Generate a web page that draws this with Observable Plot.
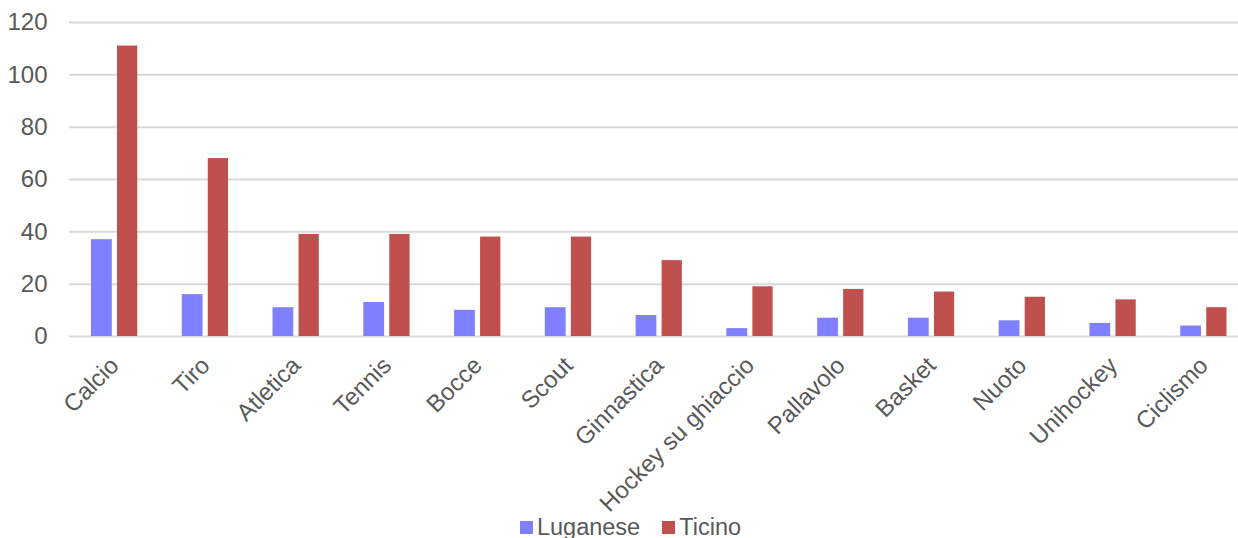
<!DOCTYPE html>
<html>
<head>
<meta charset="utf-8">
<script src="https://cdn.jsdelivr.net/npm/d3@7"></script>
<script src="https://cdn.jsdelivr.net/npm/@observablehq/plot@0.6"></script>
<style>
  html, body { margin: 0; padding: 0; background: #fff; overflow: hidden; }
  #chart svg { display: block; overflow: hidden; }
  .legend {
    display: flex; justify-content: center; align-items: center;
    padding-left: 23px; margin-top: -4px; height: 30px; line-height: 30px;
    font-family: "Liberation Sans", Arial, sans-serif; font-size: 23.5px; color: #595959;
    position: relative;
  }
  .legend .item { display: inline-flex; align-items: center; margin: 0 11px; }
  .legend .sw { width: 13px; height: 13px; margin-right: 4px; display: inline-block; }
</style>
</head>
<body>
<div id="chart"></div>
<div class="legend" id="legend"></div>
<script>
// Sport associations per discipline: Luganese district vs. whole canton
const sports = ["Calcio", "Tiro", "Atletica", "Tennis", "Bocce", "Scout", "Ginnastica",
  "Hockey su ghiaccio", "Pallavolo", "Basket", "Nuoto", "Unihockey", "Ciclismo"];
const series = ["Luganese", "Ticino"];
const luganese = [37, 16, 11, 13, 10, 11, 8, 3, 7, 7, 6, 5, 4];
const ticino = [111, 68, 39, 39, 38, 38, 29, 19, 18, 17, 15, 14, 11];
const yTicks = [0, 20, 40, 60, 80, 100, 120];
const colors = ["#7F7FFF", "#C0504D"];

const rowsLuganese = sports.map((s, i) => ({sport: s, value: luganese[i]}));
const rowsTicino = sports.map((s, i) => ({sport: s, value: ticino[i]}));

// each category band holds a pair of clustered bars (Luganese left, Ticino right);
// the last band runs a little past the right edge of the drawing
const chart = Plot.plot({
  width: 1238,
  height: 516,
  marginLeft: 69,
  marginRight: 0,
  marginTop: 22,
  marginBottom: 180,
  style: {fontFamily: "'Liberation Sans', Arial, sans-serif", fontSize: "24px", color: "#595959", background: "#fff"},
  x: {domain: sports, range: [69, 1249], padding: 0, round: false, label: null, tickRotate: -45, tickSize: 0, tickPadding: 25},
  y: {domain: [0, 120], ticks: yTicks, label: null, tickSize: 0, tickPadding: 22, tickFormat: d => d},
  marks: [
    Plot.ruleY(yTicks, {stroke: "#d9d9d9", strokeWidth: 2}),
    Plot.barY(rowsLuganese, {x: "sport", y: "value", fill: colors[0], insetLeft: 22, insetRight: 48}),
    Plot.barY(rowsTicino, {x: "sport", y: "value", fill: colors[1], insetLeft: 48, insetRight: 22.5})
  ]
});
document.getElementById("chart").appendChild(chart);

const legend = document.getElementById("legend");
series.forEach((name, i) => {
  const item = document.createElement("span");
  item.className = "item";
  const sw = document.createElement("span");
  sw.className = "sw";
  sw.style.background = colors[i];
  item.appendChild(sw);
  item.appendChild(document.createTextNode(name));
  legend.appendChild(item);
});
</script>
</body>
</html>
